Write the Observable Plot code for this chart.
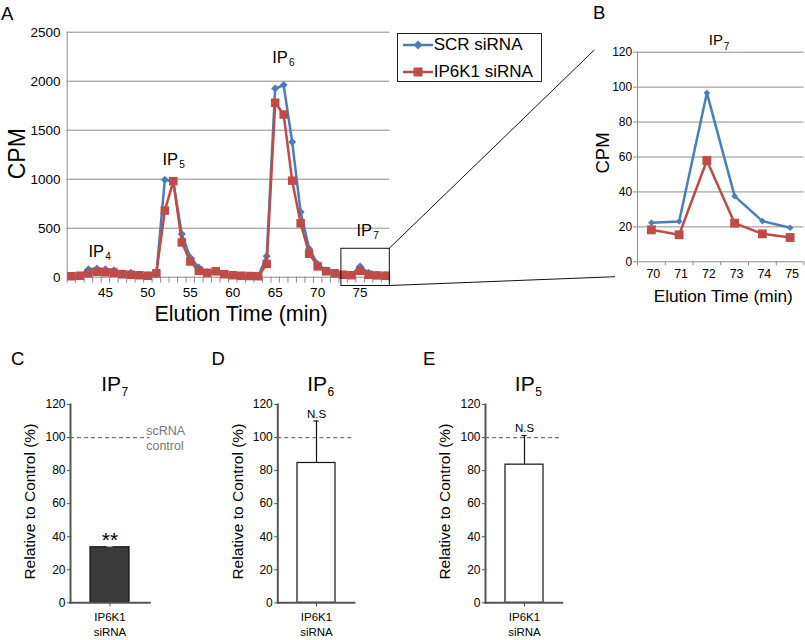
<!DOCTYPE html>
<html><head><meta charset="utf-8">
<script src="https://cdn.jsdelivr.net/npm/d3@7"></script>
<script src="https://cdn.jsdelivr.net/npm/@observablehq/plot@0.6"></script>
<style>
html,body{margin:0;padding:0;background:#fff;}
#fig{position:relative;width:805px;height:640px;overflow:hidden;font-family:'Liberation Sans',Arial,Helvetica,sans-serif;color:#000;}
.panel{position:absolute;}
</style></head><body><div id="fig"></div>
<script>
// ---------------- DATA ----------------
// Panel A: elution profile
const timesA = [41,42,43,44,45,46,47,48,49,50,51,52,53,54,55,56,57,58,59,60,61,62,63,64,65,66,67,68,69,70,71,72,73,74,75,76,77,78];
const scrA   = [10,15,80,90,80,70,40,45,20,20,30,995,970,440,200,100,50,60,30,20,15,10,10,215,1925,1960,1380,665,290,135,70,35,25,25,110,45,25,20];
const ip6kA  = [10,15,40,55,50,45,30,25,20,15,40,680,980,355,160,65,45,60,30,20,15,12,10,135,1780,1660,985,550,240,110,60,40,25,20,65,25,18,15];
const aYTicks = [0,500,1000,1500,2000,2500];
const aXTicks = [45,50,55,60,65,70,75];
const peakSubs  = ["4","5","6","7"];
const peakTimes = [43.0,51.72,64.65,74.58];
const peakCpm   = [257,1202,2243,470];
const zoomTimes = [72.8,78.5];
const zoomCpm   = [-90,290];

// Panel B: IP7 zoom
const timesB = [70,71,72,73,74,75];
const scrB   = [22.3,23.1,96.7,37.6,23.3,19.5];
const ip6kB  = [18.3,15.5,58.0,22.1,16.0,13.9];
const bYTicks = [0,20,40,60,80,100,120];

// Panels C, D, E: relative to control
const barCategory = ["IP6K1 siRNA"];
const barSubs   = ["7","6","5"];
const barValues = [33.6,84.6,83.6];
const barErrors = [0.4,25.4,17.6];
const barNotes  = ["**","N.S","N.S"];
const barYTicks = [0,20,40,60,80,100,120];
const controlLevel = [100];

const seriesNames = ["SCR siRNA","IP6K1 siRNA"];
const seriesColors = ["#4A7EBB","#BE4B48"];

// ---------------- HELPERS ----------------
const FONT = "'Liberation Sans', Arial, Helvetica, sans-serif";
const baseStyle = {fontFamily: FONT, background: "transparent", overflow: "visible", color: "#000"};
const GRID = "#8c8c8c";
const fig = document.getElementById("fig");
function place(svg, left, top) {
  const d = document.createElement("div");
  d.className = "panel"; d.style.left = left + "px"; d.style.top = top + "px";
  svg.style.display = "block";
  d.appendChild(svg); fig.appendChild(d); return svg;
}
const toRows = (ts, vs) => ts.map((t, i) => ({t, v: vs[i]}));
const bounds = (ts) => ts.map(t => t - 0.5).concat([ts[ts.length - 1] + 0.5]);
const plain = d => String(d);

// ---------------- PANEL A ----------------
const A_LEFT = 0, A_TOP = 0;
const peaks = peakSubs.map((s, i) => ({sub: s, t: peakTimes[i], cpm: peakCpm[i]}));
const zoomBox = [{t1: zoomTimes[0], t2: zoomTimes[1], c1: zoomCpm[0], c2: zoomCpm[1]}];
const plotA = Plot.plot({
  width: 400, height: 320,
  marginLeft: 66.7, marginRight: 10.7, marginTop: 31.7, marginBottom: 43.3,
  style: baseStyle,
  x: {domain: [timesA[0] - 0.5, timesA[timesA.length - 1] + 0.5]},
  y: {domain: [0, 2500]},
  marks: [
    Plot.ruleY(aYTicks, {stroke: GRID, strokeWidth: 1}),
    Plot.ruleX([timesA[0] - 0.5], {stroke: GRID, strokeWidth: 1}),
    Plot.axisY({ticks: aYTicks, tickFormat: plain, tickSize: 0, tickPadding: 6.7, fontSize: 13.5, label: null}),
    Plot.axisX({ticks: bounds(timesA), tickSize: 6, tickFormat: () => "", stroke: GRID, label: null}),
    Plot.axisX({ticks: aXTicks, tickFormat: plain, tickSize: 0, tickPadding: 10, fontSize: 13.5, label: null}),
    Plot.line(toRows(timesA, scrA), {x: "t", y: "v", stroke: seriesColors[0], strokeWidth: 2.5}),
    Plot.dot(toRows(timesA, scrA), {x: "t", y: "v", symbol: "diamond2", r: 3.6, fill: seriesColors[0], stroke: "none"}),
    Plot.line(toRows(timesA, ip6kA), {x: "t", y: "v", stroke: seriesColors[1], strokeWidth: 2.5}),
    Plot.dot(toRows(timesA, ip6kA), {x: "t", y: "v", symbol: "square", r: 4.8, fill: seriesColors[1], stroke: "none"}),
    Plot.rect(zoomBox, {x1: "t1", x2: "t2", y1: "c1", y2: "c2", fill: "none", stroke: "#111", strokeWidth: 1}),
    Plot.text(peaks, {x: "t", y: "cpm", text: () => "IP", textAnchor: "start", lineAnchor: "middle", fontSize: 16.5}),
    Plot.text(peaks, {x: "t", y: "cpm", text: "sub", textAnchor: "start", lineAnchor: "middle", dx: 16.8, dy: 5, fontSize: 10}),
    Plot.text(["CPM"], {frameAnchor: "left", textAnchor: "middle", lineAnchor: "middle", rotate: -90, dx: -50, dy: -1, fontSize: 23}),
    Plot.text(["Elution Time (min)"], {frameAnchor: "bottom", textAnchor: "middle", lineAnchor: "middle", dx: 12.5, dy: 37, fontSize: 21.5})
  ]
});
place(plotA, A_LEFT, A_TOP);

// Legend (HTML)
const legend = document.createElement("div");
legend.style.cssText = "position:absolute;left:396.7px;top:32.7px;width:145px;height:49px;border:1px solid #222;box-sizing:border-box;background:#fff;";
seriesNames.forEach((name, i) => {
  const row = document.createElement("div");
  row.style.cssText = `position:absolute;left:5px;top:${[11.6, 38.3][i] - 10}px;height:20px;display:flex;align-items:center;white-space:nowrap;`;
  const sym = i === 0
    ? `<path d="M15,5.5 L19.5,10 L15,14.5 L10.5,10 Z" fill="${seriesColors[i]}"/>`
    : `<rect x="10.5" y="5.5" width="9" height="9" fill="${seriesColors[i]}"/>`;
  row.innerHTML = `<svg width="31" height="20" style="display:block"><line x1="0" x2="30" y1="10" y2="10" stroke="${seriesColors[i]}" stroke-width="2.5"/>${sym}</svg><span style="font-size:17px;line-height:20px;">${name}</span>`;
  legend.appendChild(row);
});
fig.appendChild(legend);

// ---------------- PANEL B ----------------
const B_LEFT = 580, B_TOP = 0;
const plotB = Plot.plot({
  width: 225, height: 320,
  marginLeft: 57, marginRight: 1.5, marginTop: 51.7, marginBottom: 58.7,
  style: baseStyle,
  x: {domain: [timesB[0] - 0.5, timesB[timesB.length - 1] + 0.5]},
  y: {domain: [0, 120]},
  marks: [
    Plot.ruleY(bYTicks, {stroke: GRID, strokeWidth: 1}),
    Plot.ruleX([timesB[0] - 0.5], {stroke: GRID, strokeWidth: 1}),
    Plot.axisY({ticks: bYTicks, tickFormat: plain, tickSize: 4, tickPadding: 1.3, stroke: GRID, fontSize: 12, label: null}),
    Plot.axisX({ticks: bounds(timesB), tickSize: 4, tickFormat: () => "", stroke: GRID, label: null}),
    Plot.axisX({ticks: timesB, tickFormat: plain, tickSize: 0, tickPadding: 7.1, dx: 2, fontSize: 12.5, label: null}),
    Plot.line(toRows(timesB, scrB), {x: "t", y: "v", stroke: seriesColors[0], strokeWidth: 2.5}),
    Plot.dot(toRows(timesB, scrB), {x: "t", y: "v", symbol: "diamond2", r: 3, fill: seriesColors[0], stroke: "none"}),
    Plot.line(toRows(timesB, ip6kB), {x: "t", y: "v", stroke: seriesColors[1], strokeWidth: 2.5}),
    Plot.dot(toRows(timesB, ip6kB), {x: "t", y: "v", symbol: "square", r: 5, fill: seriesColors[1], stroke: "none"}),
    Plot.text(["CPM"], {frameAnchor: "left", textAnchor: "middle", lineAnchor: "middle", rotate: -90, dx: -34.3, dy: -4, fontSize: 18.5}),
    Plot.text(["Elution Time (min)"], {frameAnchor: "bottom", textAnchor: "middle", lineAnchor: "middle", dx: 2.5, dy: 34.7, fontSize: 17.3}),
    Plot.text(["IP"], {frameAnchor: "top", textAnchor: "start", lineAnchor: "middle", dx: -11.9, dy: -12.5, fontSize: 15}),
    Plot.text(["7"], {frameAnchor: "top", textAnchor: "start", lineAnchor: "middle", dx: 3.1, dy: -5.6, fontSize: 10})
  ]
});
place(plotB, B_LEFT, B_TOP);

// ---------------- PANELS C, D, E ----------------
const barLayouts = [
  {left: 0,   width: 200, marginLeft: 70,   marginRight: 50.7, fill: "#3a3a3a", err: "#aaa"},
  {left: 200, width: 220, marginLeft: 77.3, marginRight: 66,   fill: "#fff",    err: "#111"},
  {left: 420, width: 200, marginLeft: 65,   marginRight: 58.3, fill: "#fff",    err: "#111"}
];
barLayouts.forEach((L, k) => {
  const rows = [{name: barCategory[0], value: barValues[k], err: barErrors[k], note: barNotes[k]}];
  const marks = [
    Plot.ruleY(controlLevel, {stroke: "#777", strokeDasharray: "4,3", strokeWidth: 1.2}),
    Plot.barY(rows, {x: "name", y: "value", fill: L.fill, stroke: "#111", strokeWidth: 1.2}),
    Plot.ruleX(rows, {x: "name", y1: "value", y2: d => d.value + d.err, stroke: L.err, strokeWidth: 1.2}),
    Plot.tickY(rows, {x: "name", y: d => d.value + d.err, stroke: L.err, strokeWidth: 1.2, insetLeft: 16.5, insetRight: 16.5}),
    Plot.frame({anchor: "left", stroke: "#555", strokeWidth: 2}),
    Plot.frame({anchor: "bottom", stroke: "#555", strokeWidth: 2}),
    Plot.axisY({ticks: barYTicks, tickFormat: plain, tickSize: 3, tickPadding: 2, fontSize: 12, stroke: "#555", label: null}),
    Plot.axisX({tickSize: 4, tickFormat: () => "", stroke: "#555", label: null}),
    Plot.text(rows, {x: "name", text: d => d.name.replace(" ", "\n"), frameAnchor: "bottom", textAnchor: "middle", lineAnchor: "top", dy: 6.5, fontSize: 11.5, lineHeight: 1.38}),
    Plot.text(rows, {x: "name", y: d => d.value + d.err, text: "note", lineAnchor: "middle", dy: k === 0 ? -6.5 : -7, fontSize: k === 0 ? 21 : 11.5}),
    Plot.text(["Relative to Control (%)"], {frameAnchor: "left", textAnchor: "middle", lineAnchor: "middle", rotate: -90, dx: -40, dy: -2, fontSize: 15.5}),
    Plot.text(["IP"], {frameAnchor: "top", textAnchor: "start", lineAnchor: "middle", dx: -9, dy: -20.7, fontSize: 21}),
    Plot.text([barSubs[k]], {frameAnchor: "top", textAnchor: "start", lineAnchor: "middle", dx: 11.3, dy: -12.8, fontSize: 12})
  ];
  if (k === 0) {
    marks.push(Plot.text(["scRNA\ncontrol"], {frameAnchor: "right", y: () => controlLevel[0], textAnchor: "start", lineAnchor: "middle", dx: -3.6, fontSize: 12.5, lineHeight: 1.2, fill: "#777"}));
  }
  const p = Plot.plot({
    width: L.width, height: 310,
    marginLeft: L.marginLeft, marginRight: L.marginRight, marginTop: 74, marginBottom: 37.7,
    style: baseStyle,
    x: {type: "band", domain: barCategory, padding: 0.342},
    y: {domain: [0, 120]},
    marks
  });
  place(p, L.left, 330);
});

// ---------------- OVERLAY: panel letters and zoom connectors ----------------
const ov = d3.select(fig).append("svg")
  .attr("width", 805).attr("height", 640)
  .style("position", "absolute").style("left", 0).style("top", 0).style("pointer-events", "none")
  .style("font-family", FONT);
const letters = [["A", 1, 20], ["B", 593, 19.3], ["C", 11, 365], ["D", 211.5, 365], ["E", 423, 365]];
ov.selectAll("text").data(letters).join("text")
  .attr("x", d => d[1]).attr("y", d => d[2]).attr("font-size", 18.5).text(d => d[0]);
const ax = plotA.scale("x"), ay = plotA.scale("y");
const bx = plotB.scale("x"), by = plotB.scale("y");
const bLeft = B_LEFT + bx.apply(timesB[0] - 0.5);
const connectors = [
  [A_LEFT + ax.apply(zoomTimes[1]), A_TOP + ay.apply(zoomCpm[1]), bLeft - 42.7, B_TOP + by.apply(120) - 1.7],
  [A_LEFT + ax.apply(zoomTimes[1]), A_TOP + ay.apply(zoomCpm[0]), bLeft - 22, B_TOP + by.apply(0) + 15.4]
];
ov.selectAll("line").data(connectors).join("line")
  .attr("x1", d => d[0]).attr("y1", d => d[1]).attr("x2", d => d[2]).attr("y2", d => d[3])
  .attr("stroke", "#111").attr("stroke-width", 1);
</script></body></html>
